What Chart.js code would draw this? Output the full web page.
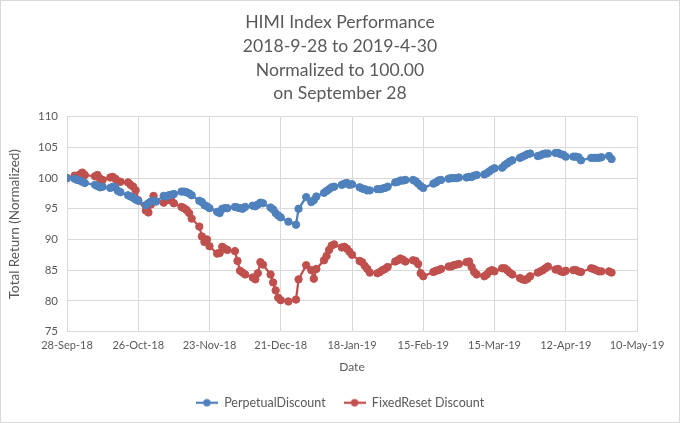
<!DOCTYPE html>
<html>
<head>
<meta charset="utf-8">
<script src="https://cdn.jsdelivr.net/npm/chart.js@4.4.1/dist/chart.umd.min.js"></script>
<style>
html,body{margin:0;padding:0;background:#fff;}
#wrap{width:680px;height:423px;position:relative;}
</style>
</head>
<body>
<div id="wrap"><canvas id="c"></canvas></div>
<script>
const dates = [
"2018-09-28",
"2018-10-01","2018-10-02","2018-10-03","2018-10-04","2018-10-05","2018-10-09","2018-10-10","2018-10-11","2018-10-12","2018-10-15","2018-10-16","2018-10-17","2018-10-18","2018-10-19","2018-10-22","2018-10-23","2018-10-24","2018-10-25","2018-10-26","2018-10-29","2018-10-30","2018-10-31",
"2018-11-01","2018-11-02","2018-11-05","2018-11-06","2018-11-07","2018-11-08","2018-11-09","2018-11-12","2018-11-13","2018-11-14","2018-11-15","2018-11-16","2018-11-19","2018-11-20","2018-11-21","2018-11-22","2018-11-23","2018-11-26","2018-11-27","2018-11-28","2018-11-29","2018-11-30",
"2018-12-03","2018-12-04","2018-12-05","2018-12-06","2018-12-07","2018-12-10","2018-12-11","2018-12-12","2018-12-13","2018-12-14","2018-12-17","2018-12-18","2018-12-19","2018-12-20","2018-12-21","2018-12-24","2018-12-27","2018-12-28","2018-12-31",
"2019-01-02","2019-01-03","2019-01-04","2019-01-07","2019-01-08","2019-01-09","2019-01-10","2019-01-11","2019-01-14","2019-01-15","2019-01-16","2019-01-17","2019-01-18","2019-01-21","2019-01-22","2019-01-23","2019-01-24","2019-01-25","2019-01-28","2019-01-29","2019-01-30","2019-01-31",
"2019-02-01","2019-02-04","2019-02-05","2019-02-06","2019-02-07","2019-02-08","2019-02-11","2019-02-12","2019-02-13","2019-02-14","2019-02-15","2019-02-19","2019-02-20","2019-02-21","2019-02-22","2019-02-25","2019-02-26","2019-02-27","2019-02-28",
"2019-03-01","2019-03-04","2019-03-05","2019-03-06","2019-03-07","2019-03-08","2019-03-11","2019-03-12","2019-03-13","2019-03-14","2019-03-15","2019-03-18","2019-03-19","2019-03-20","2019-03-21","2019-03-22","2019-03-25","2019-03-26","2019-03-27","2019-03-28","2019-03-29",
"2019-04-01","2019-04-02","2019-04-03","2019-04-04","2019-04-05","2019-04-08","2019-04-09","2019-04-10","2019-04-11","2019-04-12","2019-04-15","2019-04-16","2019-04-17","2019-04-18","2019-04-22","2019-04-23","2019-04-24","2019-04-25","2019-04-26","2019-04-29","2019-04-30"
];

const perpetualDiscount = [
100,
99.9,99.7,99.6,99.4,99.2,98.9,98.7,98.5,98.6,98.4,98.6,98.5,97.9,97.7,97.2,97.0,96.8,96.5,96.3,95.6,95.9,96.2,
96.3,96.2,97.1,97.0,97.2,97.3,97.4,97.8,97.8,97.7,97.5,97.2,96.3,96.1,95.6,95.4,95.1,94.5,94.3,95.0,95.1,95.1,
95.3,95.2,95.1,95.0,95.3,95.5,95.4,95.7,96.0,95.9,95.2,94.9,94.3,93.9,93.6,92.9,92.4,95.0,96.9,
96.1,96.4,97.0,97.6,97.9,98.2,98.5,98.6,98.9,99.1,99.2,98.9,99.0,98.5,98.3,98.2,98.0,98.0,98.2,98.2,98.3,98.4,
98.6,99.3,99.4,99.6,99.6,99.7,99.7,99.5,99.1,98.7,98.4,99.1,99.3,99.6,99.7,99.9,100.0,100.0,100.0,
100.1,100.1,100.2,100.2,100.4,100.5,100.6,100.8,101.1,101.4,101.6,101.7,102.1,102.4,102.7,102.9,103.3,103.5,103.7,103.9,104.0,
103.6,103.7,103.9,104.0,104.0,104.1,104.1,103.9,103.8,103.5,103.5,103.5,103.4,102.9,103.3,103.3,103.3,103.3,103.4,103.6,103.1
];

const fixedResetDiscount = [
100,
100.4,100.3,100.6,100.9,100.5,100.3,100.5,99.9,99.7,100.1,100.2,99.9,99.5,99.4,99.3,98.9,98.6,98.0,96.4,94.7,94.4,95.7,
97.1,96.2,96.0,96.4,96.7,96.3,95.9,95.3,95.1,94.8,94.3,93.4,92.1,90.5,89.6,90.0,88.9,87.7,87.8,88.8,88.5,88.3,
88.1,86.5,84.9,84.6,84.3,83.8,83.5,84.5,86.3,85.9,84.3,83.0,81.7,80.5,80.1,79.9,80.2,83.5,85.8,
85.0,83.6,85.2,86.6,87.3,88.3,89.0,89.2,88.7,88.8,88.5,88.0,87.5,86.5,86.3,85.7,85.2,84.6,84.5,84.7,85.0,85.2,
85.5,86.4,86.6,86.9,86.7,86.4,86.6,86.5,86.0,84.5,84.0,84.7,84.9,85.0,85.2,85.6,85.6,85.8,85.9,
86.0,86.3,86.4,85.5,84.7,84.3,84.0,84.3,84.8,85.0,84.8,85.3,85.3,85.0,84.6,84.3,83.7,83.5,83.4,83.6,84.0,
84.6,84.8,85.0,85.3,85.6,85.1,85.2,84.8,84.7,84.9,85.0,85.0,84.8,84.7,85.3,85.2,85.0,84.8,84.8,84.8,84.6
];

const xTickLabels = ["28-Sep-18","26-Oct-18","23-Nov-18","21-Dec-18","18-Jan-19","15-Feb-19","15-Mar-19","12-Apr-19","10-May-19"];
const yTicks = [75,80,85,90,95,100,105,110];
const seriesNames = ["PerpetualDiscount","FixedReset Discount"];
const titleLines = ["HIMI Index Performance","2018-9-28 to 2019-4-30","Normalized to 100.00","on September 28"];

const BLUE = "#4F81BD";
const RED = "#C0504D";
const TXT = "#595959";
const GRID = "#D9D9D9";
const FONT = "Lato, 'Open Sans', sans-serif";

const DAY = 86400000;
const t0 = Date.parse(dates[0] + "T00:00:00Z");
const dayOf = s => Math.round((Date.parse(s + "T00:00:00Z") - t0) / DAY);
const tickDay = s => {
  const m = {Jan:0,Feb:1,Mar:2,Apr:3,May:4,Jun:5,Jul:6,Aug:7,Sep:8,Oct:9,Nov:10,Dec:11};
  const p = s.split("-");
  return Math.round((Date.UTC(2000 + +p[2], m[p[1]], +p[0]) - t0) / DAY);
};
const xTickPos = xTickLabels.map(tickDay);

const mk = (vals) => vals.map((v, i) => ({x: dayOf(dates[i]), y: v}));

function legendIcon(color) {
  const c = document.createElement("canvas");
  c.width = 22; c.height = 10;
  const g = c.getContext("2d");
  g.strokeStyle = color; g.lineWidth = 2.25;
  g.beginPath(); g.moveTo(0, 5); g.lineTo(22, 5); g.stroke();
  g.fillStyle = color;
  g.beginPath(); g.arc(11, 5, 3.7, 0, Math.PI * 2); g.fill();
  return c;
}
const icons = [legendIcon(BLUE), legendIcon(RED)];

const bgPlugin = {
  id: "bg",
  beforeDraw(chart) {
    const ctx = chart.ctx;
    ctx.save();
    ctx.fillStyle = "#fff";
    ctx.fillRect(0, 0, chart.width, chart.height);
    ctx.restore();
  },
  afterDraw(chart) {
    const ctx = chart.ctx;
    ctx.save();
    ctx.strokeStyle = "#D9D9D9";
    ctx.lineWidth = 1;
    ctx.strokeRect(0.5, 0.5, chart.width - 1, chart.height - 1);
    ctx.restore();
  }
};

new Chart(document.getElementById("c"), {
  type: "line",
  data: {
    datasets: [
      {label: seriesNames[0], data: mk(perpetualDiscount), borderColor: BLUE, backgroundColor: BLUE,
       borderWidth: 2.25, pointRadius: 3.7, pointBorderWidth: 1, pointBackgroundColor: BLUE, pointBorderColor: BLUE, tension: 0},
      {label: seriesNames[1], data: mk(fixedResetDiscount), borderColor: RED, backgroundColor: RED,
       borderWidth: 2.25, pointRadius: 3.7, pointBorderWidth: 1, pointBackgroundColor: RED, pointBorderColor: RED, tension: 0}
    ]
  },
  options: {
    responsive: true,
    maintainAspectRatio: false,
    animation: false,
    layout: {padding: {left: 0, right: 0, top: 0, bottom: 4}},
    plugins: {
      title: {
        display: true, text: titleLines, color: TXT,
        font: {family: FONT, size: 17.6, weight: "normal", lineHeight: 1.36},
        padding: {top: 10, bottom: 11}
      },
      legend: {
        position: "bottom",
        labels: {
          color: TXT, font: {family: FONT, size: 12.5}, usePointStyle: true, pointStyleWidth: 22, padding: 18,
          generateLabels(chart) {
            const items = Chart.defaults.plugins.legend.labels.generateLabels(chart);
            items.forEach((it, i) => { it.pointStyle = icons[i]; });
            return items;
          }
        }
      },
      tooltip: {enabled: false}
    },
    scales: {
      x: {
        type: "linear",
        min: xTickPos[0], max: xTickPos[xTickPos.length - 1],
        afterBuildTicks(scale) { scale.ticks = xTickPos.map(v => ({value: v})); },
        afterFit(scale) { scale.height = 47; },
        ticks: {
          color: TXT, font: {family: FONT, size: 11}, padding: 7, maxRotation: 0, autoSkip: false,
          callback(v) { const i = xTickPos.indexOf(v); return i >= 0 ? xTickLabels[i] : ""; }
        },
        grid: {color: GRID, drawTicks: false},
        border: {color: GRID},
        title: {display: true, text: "Date", color: TXT, font: {family: FONT, size: 12}, padding: {top: 2, bottom: 4}}
      },
      y: {
        min: yTicks[0], max: yTicks[yTicks.length - 1],
        afterBuildTicks(scale) { scale.ticks = yTicks.map(v => ({value: v})); },
        afterFit(scale) { scale.width = 67; },
        ticks: {color: TXT, font: {family: FONT, size: 11.5}, padding: 9},
        grid: {color: GRID, drawTicks: false},
        border: {color: GRID},
        title: {display: true, text: "Total Return (Normalized)", color: TXT, font: {family: FONT, size: 13.5}, padding: {top: 7, bottom: 4}}
      },
      yRight: {
        position: "right",
        display: true,
        afterFit(scale) { scale.width = 43; },
        ticks: {display: false},
        grid: {display: false, drawTicks: false},
        border: {display: false}
      }
    }
  },
  plugins: [bgPlugin]
});
</script>
</body>
</html>
